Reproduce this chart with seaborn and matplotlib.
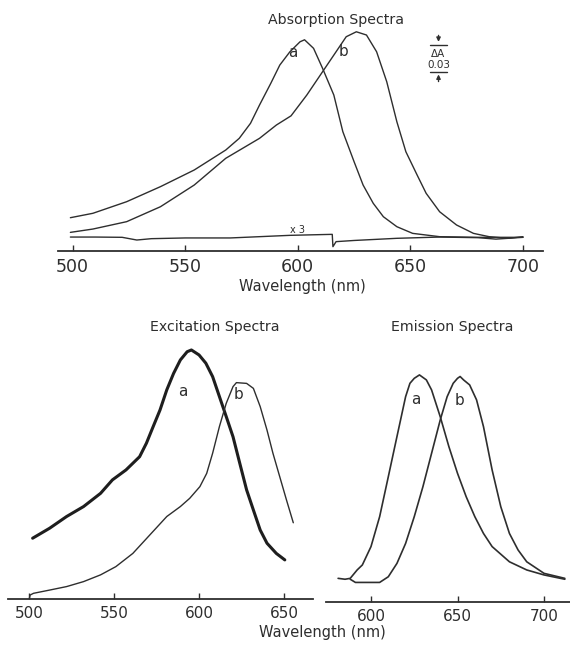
import matplotlib
matplotlib.use("Agg")
import matplotlib.pyplot as plt
import seaborn as sns

# ---------------- data ----------------
abs_wl_a = [499, 509, 524, 539, 554, 561, 568, 574, 579, 583, 588, 592, 596.5, 601, 603, 607, 611, 616, 620, 625,
            629, 633.5, 638, 644, 651, 663, 680, 700]
abs_a = [0.0218, 0.0267, 0.0396, 0.0563, 0.0748, 0.0859, 0.097, 0.11, 0.1267, 0.147, 0.1711, 0.1914, 0.2062,
         0.2173, 0.2195, 0.21, 0.1878, 0.1581, 0.1174, 0.084, 0.0581, 0.0378, 0.0229, 0.0118, 0.0044, 0.0007,
         0.0, 0.0]
abs_wl_b = [499, 509, 524, 539, 554, 568, 583, 590.5, 597, 604, 611, 617, 621.5, 626, 630.5, 635, 639.5, 644, 648,
            653, 657, 663, 670.5, 678, 685, 693, 700]
abs_b = [0.0055, 0.0092, 0.0174, 0.034, 0.0581, 0.0878, 0.11, 0.1248, 0.135, 0.1581, 0.184, 0.2062, 0.2229,
         0.2284, 0.2248, 0.2062, 0.1729, 0.1284, 0.0951, 0.0692, 0.0489, 0.0284, 0.0137, 0.0044, 0.0007,
         -0.0011, 0.0]
base_wl = [499, 510, 522, 528.5, 535, 550, 570, 596.5, 610, 615.3, 615.6, 617, 625, 644, 663, 680, 688, 694, 700]
base_A = [0.0003, 0.0003, 0.0, -0.003, -0.0015, -0.0007, -0.0007, 0.0022, 0.003, 0.0033, -0.0104, -0.0048,
          -0.0035, -0.0011, 0.0003, -0.0004, -0.002, -0.001, 0.0007]

exc_wl_a = [502, 512, 522, 532, 542, 549, 557, 565, 569, 573, 577, 581, 585, 589, 593, 595.5, 600, 604, 608, 612,
            616, 620, 624, 628, 632, 636, 640, 645.5, 650.5]
exc_a = [0.245, 0.285, 0.332, 0.372, 0.425, 0.479, 0.519, 0.572, 0.626, 0.693, 0.759, 0.840, 0.906, 0.960, 0.993,
         1.0, 0.98, 0.947, 0.893, 0.813, 0.733, 0.652, 0.545, 0.439, 0.358, 0.278, 0.225, 0.184, 0.158]
exc_wl_b = [500, 500.5, 502.5, 512, 522, 532, 542, 551, 561, 571, 581, 589, 594.5, 600.5, 604.5, 608, 612, 616, 620,
            622, 628, 632, 636, 640, 643.5, 647.5, 651.5, 655.5]
exc_b = [0.0, 0.017, 0.024, 0.037, 0.051, 0.071, 0.098, 0.131, 0.184, 0.258, 0.332, 0.372, 0.405, 0.452, 0.505,
         0.586, 0.693, 0.786, 0.853, 0.869, 0.866, 0.846, 0.773, 0.679, 0.586, 0.492, 0.398, 0.307]

em_wl_a = [581, 585, 588, 592, 595, 600, 605, 610, 615, 620, 622.5, 625, 628, 632, 635, 640, 645, 650, 655, 660,
           665, 670, 680, 690, 700, 712]
em_a = [0.103, 0.099, 0.103, 0.140, 0.162, 0.243, 0.375, 0.551, 0.728, 0.904, 0.963, 0.985, 1.0, 0.978, 0.934,
        0.816, 0.684, 0.566, 0.463, 0.375, 0.301, 0.243, 0.176, 0.140, 0.118, 0.099]
em_wl_b = [588, 591, 605, 610, 615, 620, 625, 630, 635, 640, 644, 647.5, 650, 651.5, 653.5, 657, 661, 665, 670, 675,
           680, 685, 690, 700, 712]
em_b = [0.099, 0.085, 0.085, 0.110, 0.169, 0.257, 0.375, 0.507, 0.654, 0.801, 0.904, 0.963, 0.985, 0.993, 0.978,
        0.956, 0.890, 0.772, 0.581, 0.419, 0.301, 0.228, 0.176, 0.125, 0.103]

abs_ticks = [500, 550, 600, 650, 700]
exc_ticks = [500, 550, 600, 650]
em_ticks = [600, 650, 700]

# ---------------- style ----------------
sns.set_theme(style="white")
plt.rcParams['font.family'] = ['DejaVu Sans']
INK = "#2e2e2e"
W, H = 570, 645

fig = plt.figure(figsize=(W / 100, H / 100), dpi=100)
fig.patch.set_facecolor("white")


def px_axes(left, top, right, bottom):
    return fig.add_axes([left / W, 1 - bottom / H, (right - left) / W, (bottom - top) / H])


def ftext(x, y, s, **kw):
    fig.text(x / W, 1 - y / H, s, ha='center', va='center', color=INK, **kw)


def style(ax, ticks, xlim, ylim, labelsize):
    ax.set_xlim(*xlim)
    ax.set_ylim(*ylim)
    ax.set_xticks(ticks)
    ax.set_xticklabels([str(t) for t in ticks])
    ax.set_yticks([])
    ax.set_xlabel("")
    ax.set_ylabel("")
    for s in ["top", "left", "right"]:
        ax.spines[s].set_visible(False)
    ax.spines["bottom"].set_color(INK)
    ax.spines["bottom"].set_linewidth(1.3)
    ax.tick_params(axis='x', direction='in', length=4, width=1.0, colors=INK,
                   labelsize=labelsize, pad=5, bottom=True)
    ax.patch.set_alpha(0)


ax_abs = px_axes(58, 10, 543, 251)
ax_exc = px_axes(8, 340, 313, 599.3)
ax_em = px_axes(326, 340, 570, 601.7)

# absorption
sns.lineplot(x=abs_wl_a, y=abs_a, ax=ax_abs, color=INK, lw=1.0, estimator=None, sort=False)
sns.lineplot(x=abs_wl_b, y=abs_b, ax=ax_abs, color=INK, lw=1.0, estimator=None, sort=False)
sns.lineplot(x=base_wl, y=base_A, ax=ax_abs, color=INK, lw=1.0, estimator=None, sort=False)
style(ax_abs, abs_ticks, (493.5, 708.9), (-0.0152, 0.2526), 12.5)
ax_abs.text(598, 0.205, "a", ha='center', va='center', fontsize=11, color=INK)
ax_abs.text(620.5, 0.206, "b", ha='center', va='center', fontsize=11, color=INK)
ax_abs.text(600, 0.0085, "x 3", ha='center', va='center', fontsize=7, color=INK)
# ΔA scale bar
ax_abs.plot([658.8, 666.2], [0.2141, 0.2141], color=INK, lw=1.0)
ax_abs.plot([658.8, 666.2], [0.1841, 0.1841], color=INK, lw=1.0)
ax_abs.annotate("", xy=(662.5, 0.2141), xytext=(662.5, 0.2275),
                arrowprops=dict(arrowstyle="-|>", color=INK, lw=1.0, mutation_scale=6))
ax_abs.annotate("", xy=(662.5, 0.1841), xytext=(662.5, 0.1700),
                arrowprops=dict(arrowstyle="-|>", color=INK, lw=1.0, mutation_scale=6))
ax_abs.text(662.5, 0.2040, "ΔA", ha='center', va='center', fontsize=7.5, color=INK)
ax_abs.text(662.5, 0.1910, "0.03", ha='center', va='center', fontsize=7.5, color=INK)

# excitation
sns.lineplot(x=exc_wl_a, y=exc_a, ax=ax_exc, color="#1e1e1e", lw=2.2, estimator=None, sort=False)
sns.lineplot(x=exc_wl_b, y=exc_b, ax=ax_exc, color=INK, lw=1.0, estimator=None, sort=False)
style(ax_exc, exc_ticks, (487.5, 667.1), (0, 1.040), 11)
ax_exc.text(590.3, 0.833, "a", ha='center', va='center', fontsize=11, color=INK)
ax_exc.text(623, 0.82, "b", ha='center', va='center', fontsize=11, color=INK)

# emission
sns.lineplot(x=em_wl_a, y=em_a, ax=ax_em, color=INK, lw=1.2, estimator=None, sort=False)
sns.lineplot(x=em_wl_b, y=em_b, ax=ax_em, color=INK, lw=1.2, estimator=None, sort=False)
style(ax_em, em_ticks, (574, 715), (0, 1.154), 11)
ax_em.text(626, 0.89, "a", ha='center', va='center', fontsize=11, color=INK)
ax_em.text(651, 0.886, "b", ha='center', va='center', fontsize=11, color=INK)

# titles / labels
ftext(336, 20, "Absorption Spectra", fontsize=10.2)
ftext(302, 286, "Wavelength (nm)", fontsize=10.5)
ftext(215, 327, "Excitation Spectra", fontsize=10.2)
ftext(452, 327, "Emission Spectra", fontsize=10.2)
ftext(322, 633, "Wavelength (nm)", fontsize=10.5)

fig.savefig("out.png", dpi=100, facecolor="white")
